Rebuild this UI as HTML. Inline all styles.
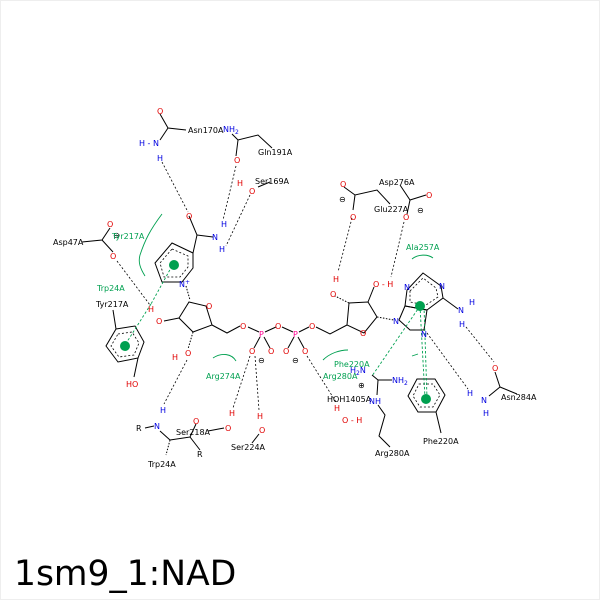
<!DOCTYPE html>
<html><head><style>body{margin:0;background:#fff}svg{display:block}text{font-family:"DejaVu Sans","Liberation Sans",sans-serif}</style></head><body>
<svg width="600" height="600" viewBox="0 0 600 600" xmlns="http://www.w3.org/2000/svg">
<rect x="0.5" y="0.5" width="599" height="599" fill="#fff" stroke="#eee"/>
<g stroke="#000" stroke-width="1" fill="none">
<polygon points="172,243 193,253 193,268 182,282 162,282 155,263"/>
<polyline points="193,253 197,235 189,216"/><line x1="197" y1="235" x2="213" y2="237"/>
<line x1="186" y1="286" x2="190" y2="300" stroke-dasharray="1.5,1.5"/>
<polygon points="189,302 206,306 212,325 193,332 179,318"/>
<line x1="179" y1="318" x2="164" y2="321"/>
<line x1="193" y1="332" x2="188" y2="349" stroke-dasharray="1.5,1.5"/>
<polyline points="212,325 227,333 240,326"/>
<line x1="248" y1="327" x2="259" y2="332"/><line x1="265" y1="332" x2="276" y2="327"/>
<line x1="282" y1="327" x2="293" y2="332"/><line x1="299" y1="332" x2="309" y2="327"/>
<line x1="260" y1="337" x2="254" y2="348"/><line x1="264" y1="337" x2="270" y2="348"/>
<line x1="294" y1="337" x2="288" y2="348"/><line x1="298" y1="337" x2="304" y2="348"/>
<polyline points="316,327 330,334 347,325"/>
<polygon points="347,325 349,303 368,302 377,317 364,333"/>
<line x1="349" y1="303" x2="335" y2="296" stroke-dasharray="1.5,1.5"/>
<line x1="368" y1="302" x2="374" y2="287"/>
<line x1="377" y1="317" x2="394" y2="320" stroke-dasharray="1.5,1.5"/>
<polygon points="407,290 423,273 441,286 443,298 427,310 405,306"/>
<polygon points="399,320 405,306 427,310 424,330 410,330"/>
<line x1="443" y1="298" x2="458" y2="309"/>
<polyline points="160,114 168,128 186,130"/><line x1="168" y1="128" x2="160" y2="140"/>
<polyline points="232,134 238,140 258,135 272,148"/><line x1="238" y1="140" x2="236" y2="156"/>
<line x1="258" y1="187" x2="270" y2="182"/>
<polyline points="82,242 102,240 110,228"/><line x1="102" y1="240" x2="113" y2="252"/>
<polygon points="116,329 135,326 144,342 138,358 118,362 106,346"/>
<line x1="116" y1="329" x2="113" y2="310"/><line x1="138" y1="358" x2="134" y2="377"/>
<line x1="145" y1="428" x2="154" y2="426"/><line x1="160" y1="431" x2="170" y2="440"/>
<polyline points="170,440 190,437 200,450"/><line x1="190" y1="437" x2="196" y2="424"/>
<line x1="170" y1="440" x2="166" y2="455" stroke-dasharray="1.5,1.5"/>
<line x1="208" y1="431" x2="224" y2="428"/>
<line x1="252" y1="443" x2="259" y2="434"/>
<polyline points="344,187 355,195 377,190 390,204"/><line x1="355" y1="195" x2="353" y2="210"/>
<polyline points="400,185 410,200 426,195"/><line x1="410" y1="200" x2="407" y2="214"/>
<line x1="372" y1="375" x2="378" y2="380"/><line x1="378" y1="380" x2="392" y2="380"/>
<line x1="378" y1="380" x2="377" y2="395"/>
<polyline points="378,405 385,415 379,436 390,447"/>
<polygon points="417,379 435,379 445,395 436,412 418,412 408,396"/><line x1="436" y1="412" x2="441" y2="433"/>
<line x1="495" y1="372" x2="500" y2="387"/><line x1="500" y1="387" x2="517" y2="394"/><line x1="500" y1="387" x2="489" y2="396"/>
</g>
<g stroke="#000" stroke-width="0.8" fill="none" stroke-dasharray="2,2">
<polygon points="172,249 188,256 188,267 180,277 164,277 160,263"/>
<polygon points="118,334 132,332 139,343 134,355 119,357 111,346"/>
<polygon points="419,384 433,384 440,395 433,407 420,407 413,396"/>
<polygon points="410,291 423,278 436,288 438,297 426,305 410,302"/>
<line x1="162" y1="162" x2="188" y2="212"/>
<line x1="236" y1="166" x2="223" y2="220"/>
<line x1="250" y1="195" x2="226" y2="246"/>
<line x1="117" y1="261" x2="150" y2="305"/>
<line x1="187" y1="360" x2="164" y2="404"/>
<line x1="250" y1="356" x2="233" y2="408"/>
<line x1="255" y1="356" x2="259" y2="410"/>
<line x1="307" y1="356" x2="336" y2="402"/>
<line x1="352" y1="218" x2="338" y2="272"/>
<line x1="404" y1="222" x2="391" y2="277"/>
<line x1="466" y1="327" x2="494" y2="362"/>
<line x1="427" y1="333" x2="468" y2="389"/>
</g>
<g stroke="#00a050" stroke-width="0.9" fill="none">
<path d="M162,214 C150,230 145,240 140,255 C138,262 140,268 145,276"/>
<path d="M213,358 C222,352 232,354 236,361"/>
<path d="M412,259 C418,254 428,254 433,258"/>
<path d="M323,360 C330,353 340,350 348,350"/>
<line x1="412" y1="356" x2="418" y2="354"/>
<g stroke-dasharray="2.5,2"><line x1="172" y1="266" x2="151" y2="304"/><line x1="151" y1="304" x2="125" y2="345"/>
<line x1="420" y1="306" x2="425" y2="398"/><line x1="420" y1="306" x2="372" y2="376"/><line x1="424" y1="306" x2="427" y2="398"/></g>
</g>
<g fill="#00a050"><circle cx="174" cy="265" r="5"/><circle cx="125" cy="346" r="5"/><circle cx="420" cy="306" r="5"/><circle cx="426" cy="399" r="5"/></g>
<g font-size="8" fill="#000">
<text x="188" y="133">Asn170A</text><text x="258" y="155">Gln191A</text><text x="255" y="184">Ser169A</text>
<text x="53" y="245">Asp47A</text><text x="96" y="307">Tyr217A</text><text x="176" y="435">Ser218A</text>
<text x="148" y="467">Trp24A</text><text x="231" y="450">Ser224A</text><text x="136" y="431">R</text><text x="197" y="457">R</text>
<text x="379" y="185">Asp276A</text><text x="374" y="212">Glu227A</text><text x="327" y="402">HOH1405A</text>
<text x="423" y="444">Phe220A</text><text x="375" y="456">Arg280A</text><text x="501" y="400">Asn284A</text>
<text x="113" y="238">⊖</text><text x="258" y="363">⊖</text><text x="292" y="363">⊖</text><text x="339" y="202">⊖</text><text x="417" y="213">⊖</text><text x="358" y="388">⊕</text>
</g>
<g font-size="8" fill="#00a050">
<text x="112" y="239">Tyr217A</text><text x="97" y="291">Trp24A</text><text x="206" y="379">Arg274A</text>
<text x="406" y="250">Ala257A</text><text x="334" y="367">Phe220A</text><text x="323" y="379">Arg280A</text>
</g>
<g font-size="8" fill="#e00000">
<text x="157" y="114">O</text><text x="234" y="163">O</text><text x="237" y="186">H</text><text x="249" y="194">O</text>
<text x="186" y="219">O</text><text x="107" y="227">O</text><text x="110" y="259">O</text>
<text x="148" y="312">H</text><text x="156" y="324">O</text><text x="206" y="309">O</text>
<text x="172" y="360">H</text><text x="185" y="356">O</text><text x="126" y="387">HO</text>
<text x="240" y="329">O</text><text x="275" y="329">O</text><text x="309" y="329">O</text>
<text x="249" y="354">O</text><text x="268" y="354">O</text><text x="283" y="354">O</text><text x="302" y="354">O</text>
<text x="193" y="424">O</text><text x="225" y="431">O</text><text x="229" y="416">H</text><text x="257" y="419">H</text><text x="259" y="433">O</text>
<text x="340" y="187">O</text><text x="350" y="220">O</text><text x="426" y="198">O</text><text x="403" y="220">O</text>
<text x="333" y="282">H</text><text x="330" y="297">O</text><text x="373" y="287">O - H</text><text x="360" y="336">O</text>
<text x="334" y="411">H</text><text x="342" y="423">O - H</text><text x="492" y="371">O</text>
</g>
<g font-size="8" fill="#ff0090"><text x="259" y="337">P</text><text x="293" y="337">P</text></g>
<g font-size="8" fill="#0000e0">
<text x="223" y="132">NH<tspan font-size="6" dy="2">2</tspan></text>
<text x="139" y="146">H - N</text><text x="157" y="161">H</text>
<text x="212" y="240">N</text><text x="221" y="227">H</text><text x="219" y="252">H</text>
<text x="179" y="287">N<tspan font-size="6" dy="-3">+</tspan></text>
<text x="160" y="413">H</text><text x="154" y="429">N</text>
<text x="404" y="290">N</text><text x="439" y="289">N</text><text x="393" y="324">N</text><text x="421" y="337">N</text>
<text x="458" y="313">N</text><text x="469" y="305">H</text><text x="459" y="327">H</text>
<text x="350" y="373">H<tspan font-size="6" dy="2">2</tspan><tspan dy="-2">N</tspan></text><text x="392" y="383">NH<tspan font-size="6" dy="2">2</tspan></text>
<text x="369" y="404">NH</text>
<text x="467" y="396">H</text><text x="481" y="403">N</text><text x="483" y="416">H</text>
</g>
<text x="14" y="585" font-size="34.5" fill="#000">1sm9_1:NAD</text>
</svg>
</body></html>
